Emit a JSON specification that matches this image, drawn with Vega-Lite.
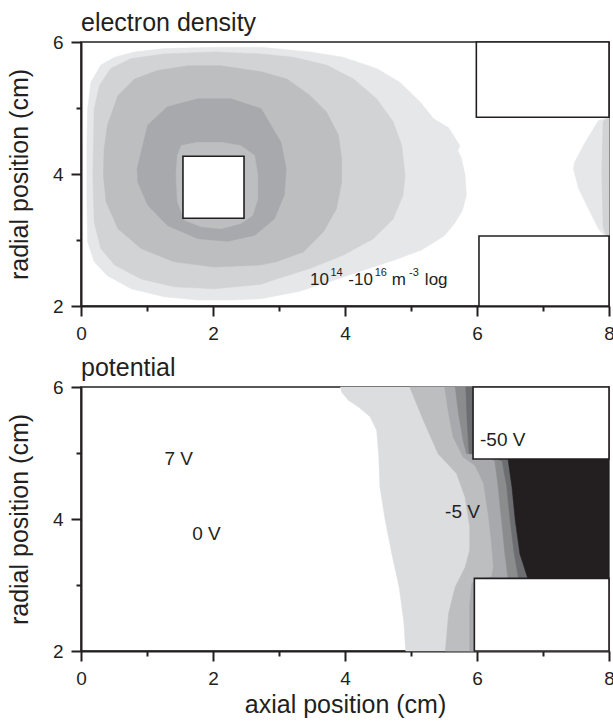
{
  "$schema": "https://vega.github.io/schema/vega-lite/v6.json",
  "background": "white",
  "padding": {"left": 6, "top": 10, "right": 0, "bottom": 0},
  "spacing": 81,
  "bounds": "flush",
  "config": {
    "font": "Liberation Sans",
    "view": {"stroke": "#231f20", "strokeWidth": 1.5},
    "axis": {"domainColor": "#231f20", "domainWidth": 2, "tickColor": "#231f20", "tickWidth": 2, "labelColor": "#231f20", "labelFontSize": 19, "labelPadding": 8, "titleColor": "#231f20", "titleFontSize": 25, "titleFontWeight": "normal", "grid": false, "labelFlush": false, "labelOverlap": false},
    "title": {"fontSize": 25, "fontWeight": "normal", "color": "#231f20", "anchor": "start", "offset": -3},
    "text": {"color": "#231f20"}
  },
  "datasets": {
    "dens": [
      {"p":"D1","i":0,"x":0.09,"y":3.98},{"p":"D1","i":1,"x":0.09,"y":4.5},{"p":"D1","i":2,"x":0.10,"y":4.99},{"p":"D1","i":3,"x":0.15,"y":5.39},{"p":"D1","i":4,"x":0.30,"y":5.65},{"p":"D1","i":5,"x":0.51,"y":5.77},{"p":"D1","i":6,"x":0.81,"y":5.85},{"p":"D1","i":7,"x":1.26,"y":5.90},{"p":"D1","i":8,"x":2.02,"y":5.92},{"p":"D1","i":9,"x":2.73,"y":5.92},{"p":"D1","i":10,"x":3.47,"y":5.85},{"p":"D1","i":11,"x":3.97,"y":5.77},{"p":"D1","i":12,"x":4.48,"y":5.60},{"p":"D1","i":13,"x":4.83,"y":5.39},{"p":"D1","i":14,"x":5.14,"y":5.09},{"p":"D1","i":15,"x":5.34,"y":4.84},{"p":"D1","i":16,"x":5.57,"y":4.70},{"p":"D1","i":17,"x":5.74,"y":4.43},{"p":"D1","i":18,"x":5.71,"y":4.35},{"p":"D1","i":19,"x":5.76,"y":4.25},{"p":"D1","i":20,"x":5.82,"y":3.98},{"p":"D1","i":21,"x":5.84,"y":3.68},{"p":"D1","i":22,"x":5.78,"y":3.45},{"p":"D1","i":23,"x":5.66,"y":3.25},{"p":"D1","i":24,"x":5.50,"y":3.06},{"p":"D1","i":25,"x":5.16,"y":2.85},{"p":"D1","i":26,"x":4.76,"y":2.70},{"p":"D1","i":27,"x":4.30,"y":2.55},{"p":"D1","i":28,"x":3.80,"y":2.38},{"p":"D1","i":29,"x":3.30,"y":2.22},{"p":"D1","i":30,"x":2.73,"y":2.11},{"p":"D1","i":31,"x":2.27,"y":2.09},{"p":"D1","i":32,"x":1.77,"y":2.09},{"p":"D1","i":33,"x":1.26,"y":2.14},{"p":"D1","i":34,"x":0.76,"y":2.26},{"p":"D1","i":35,"x":0.40,"y":2.46},{"p":"D1","i":36,"x":0.20,"y":2.67},{"p":"D1","i":37,"x":0.10,"y":2.97},{"p":"D1","i":38,"x":0.09,"y":3.5},
      {"p":"D2","i":0,"x":0.18,"y":3.98},{"p":"D2","i":1,"x":0.19,"y":4.48},{"p":"D2","i":2,"x":0.20,"y":4.99},{"p":"D2","i":3,"x":0.28,"y":5.34},{"p":"D2","i":4,"x":0.45,"y":5.60},{"p":"D2","i":5,"x":0.76,"y":5.75},{"p":"D2","i":6,"x":1.26,"y":5.82},{"p":"D2","i":7,"x":2.02,"y":5.85},{"p":"D2","i":8,"x":2.73,"y":5.82},{"p":"D2","i":9,"x":3.22,"y":5.77},{"p":"D2","i":10,"x":3.72,"y":5.65},{"p":"D2","i":11,"x":4.13,"y":5.44},{"p":"D2","i":12,"x":4.48,"y":5.14},{"p":"D2","i":13,"x":4.73,"y":4.79},{"p":"D2","i":14,"x":4.86,"y":4.43},{"p":"D2","i":15,"x":4.91,"y":3.98},{"p":"D2","i":16,"x":4.88,"y":3.68},{"p":"D2","i":17,"x":4.73,"y":3.32},{"p":"D2","i":18,"x":4.43,"y":3.02},{"p":"D2","i":19,"x":3.97,"y":2.77},{"p":"D2","i":20,"x":3.47,"y":2.57},{"p":"D2","i":21,"x":2.96,"y":2.41},{"p":"D2","i":22,"x":2.73,"y":2.33},{"p":"D2","i":23,"x":2.02,"y":2.26},{"p":"D2","i":24,"x":1.41,"y":2.29},{"p":"D2","i":25,"x":0.91,"y":2.41},{"p":"D2","i":26,"x":0.51,"y":2.62},{"p":"D2","i":27,"x":0.30,"y":2.87},{"p":"D2","i":28,"x":0.20,"y":3.27},
      {"p":"D3","i":0,"x":0.34,"y":3.98},{"p":"D3","i":1,"x":0.35,"y":4.38},{"p":"D3","i":2,"x":0.40,"y":4.74},{"p":"D3","i":3,"x":0.56,"y":5.19},{"p":"D3","i":4,"x":0.81,"y":5.44},{"p":"D3","i":5,"x":1.16,"y":5.57},{"p":"D3","i":6,"x":1.62,"y":5.64},{"p":"D3","i":7,"x":2.12,"y":5.64},{"p":"D3","i":8,"x":2.73,"y":5.55},{"p":"D3","i":9,"x":3.12,"y":5.44},{"p":"D3","i":10,"x":3.47,"y":5.19},{"p":"D3","i":11,"x":3.72,"y":4.94},{"p":"D3","i":12,"x":3.90,"y":4.59},{"p":"D3","i":13,"x":3.95,"y":4.23},{"p":"D3","i":14,"x":3.95,"y":3.88},{"p":"D3","i":15,"x":3.87,"y":3.47},{"p":"D3","i":16,"x":3.67,"y":3.12},{"p":"D3","i":17,"x":3.37,"y":2.82},{"p":"D3","i":18,"x":2.96,"y":2.67},{"p":"D3","i":19,"x":2.71,"y":2.62},{"p":"D3","i":20,"x":2.02,"y":2.59},{"p":"D3","i":21,"x":1.41,"y":2.67},{"p":"D3","i":22,"x":0.91,"y":2.87},{"p":"D3","i":23,"x":0.56,"y":3.17},{"p":"D3","i":24,"x":0.38,"y":3.58},
      {"p":"D4","i":0,"x":0.85,"y":4.08},{"p":"D4","i":1,"x":1.01,"y":4.74},{"p":"D4","i":2,"x":1.31,"y":5.02},{"p":"D4","i":3,"x":1.77,"y":5.14},{"p":"D4","i":4,"x":2.27,"y":5.14},{"p":"D4","i":5,"x":2.73,"y":4.99},{"p":"D4","i":6,"x":3.03,"y":4.48},{"p":"D4","i":7,"x":3.11,"y":4.08},{"p":"D4","i":8,"x":3.08,"y":3.68},{"p":"D4","i":9,"x":2.93,"y":3.32},{"p":"D4","i":10,"x":2.63,"y":3.07},{"p":"D4","i":11,"x":2.22,"y":2.98},{"p":"D4","i":12,"x":1.77,"y":3.02},{"p":"D4","i":13,"x":1.31,"y":3.22},{"p":"D4","i":14,"x":1.01,"y":3.53},{"p":"D4","i":15,"x":0.86,"y":3.88},
      {"p":"D5","i":0,"x":1.44,"y":3.98},{"p":"D5","i":1,"x":1.46,"y":4.28},{"p":"D5","i":2,"x":1.52,"y":4.43},{"p":"D5","i":3,"x":1.77,"y":4.48},{"p":"D5","i":4,"x":2.12,"y":4.48},{"p":"D5","i":5,"x":2.42,"y":4.43},{"p":"D5","i":6,"x":2.63,"y":4.28},{"p":"D5","i":7,"x":2.68,"y":3.98},{"p":"D5","i":8,"x":2.68,"y":3.63},{"p":"D5","i":9,"x":2.60,"y":3.37},{"p":"D5","i":10,"x":2.42,"y":3.25},{"p":"D5","i":11,"x":2.12,"y":3.17},{"p":"D5","i":12,"x":1.82,"y":3.20},{"p":"D5","i":13,"x":1.57,"y":3.30},{"p":"D5","i":14,"x":1.46,"y":3.58},
      {"p":"D6","i":0,"x":8.0,"y":4.86},{"p":"D6","i":1,"x":7.84,"y":4.81},{"p":"D6","i":2,"x":7.64,"y":4.48},{"p":"D6","i":3,"x":7.48,"y":4.18},{"p":"D6","i":4,"x":7.46,"y":4.08},{"p":"D6","i":5,"x":7.54,"y":3.78},{"p":"D6","i":6,"x":7.69,"y":3.47},{"p":"D6","i":7,"x":7.84,"y":3.17},{"p":"D6","i":8,"x":7.94,"y":3.06},{"p":"D6","i":9,"x":8.0,"y":3.06},
      {"p":"D7","i":0,"x":8.0,"y":4.86},{"p":"D7","i":1,"x":7.91,"y":4.80},{"p":"D7","i":2,"x":7.89,"y":4.0},{"p":"D7","i":3,"x":7.91,"y":3.2},{"p":"D7","i":4,"x":7.96,"y":3.06},{"p":"D7","i":5,"x":8.0,"y":3.06}
    ],
    "pot": [
      {"p":"P1","i":0,"x":3.93,"y":6.0},{"p":"P1","i":1,"x":3.95,"y":5.92},{"p":"P1","i":2,"x":4.05,"y":5.80},{"p":"P1","i":3,"x":4.20,"y":5.70},{"p":"P1","i":4,"x":4.38,"y":5.55},{"p":"P1","i":5,"x":4.48,"y":5.34},{"p":"P1","i":6,"x":4.51,"y":4.99},{"p":"P1","i":7,"x":4.53,"y":4.48},{"p":"P1","i":8,"x":4.61,"y":3.98},{"p":"P1","i":9,"x":4.71,"y":3.47},{"p":"P1","i":10,"x":4.82,"y":2.97},{"p":"P1","i":11,"x":4.89,"y":2.46},{"p":"P1","i":12,"x":4.92,"y":2.0},{"p":"P1","i":13,"x":8.0,"y":2.0},{"p":"P1","i":14,"x":8.0,"y":6.0},
      {"p":"P2","i":0,"x":4.98,"y":6.0},{"p":"P2","i":1,"x":5.19,"y":5.49},{"p":"P2","i":2,"x":5.41,"y":4.99},{"p":"P2","i":3,"x":5.69,"y":4.69},{"p":"P2","i":4,"x":5.82,"y":4.33},{"p":"P2","i":5,"x":5.89,"y":3.88},{"p":"P2","i":6,"x":5.89,"y":3.53},{"p":"P2","i":7,"x":5.82,"y":3.27},{"p":"P2","i":8,"x":5.67,"y":2.97},{"p":"P2","i":9,"x":5.57,"y":2.57},{"p":"P2","i":10,"x":5.52,"y":2.0},{"p":"P2","i":11,"x":8.0,"y":2.0},{"p":"P2","i":12,"x":8.0,"y":6.0},
      {"p":"P3","i":0,"x":5.51,"y":6.0},{"p":"P3","i":1,"x":5.57,"y":5.60},{"p":"P3","i":2,"x":5.64,"y":5.24},{"p":"P3","i":3,"x":5.79,"y":4.94},{"p":"P3","i":4,"x":5.97,"y":4.81},{"p":"P3","i":5,"x":6.10,"y":4.54},{"p":"P3","i":6,"x":6.17,"y":4.08},{"p":"P3","i":7,"x":6.22,"y":3.63},{"p":"P3","i":8,"x":6.25,"y":3.27},{"p":"P3","i":9,"x":6.22,"y":3.12},{"p":"P3","i":10,"x":5.97,"y":3.08},{"p":"P3","i":11,"x":5.92,"y":3.02},{"p":"P3","i":12,"x":5.89,"y":2.72},{"p":"P3","i":13,"x":5.89,"y":2.0},{"p":"P3","i":14,"x":8.0,"y":2.0},{"p":"P3","i":15,"x":8.0,"y":6.0},
      {"p":"P4","i":0,"x":5.67,"y":6.0},{"p":"P4","i":1,"x":5.72,"y":5.60},{"p":"P4","i":2,"x":5.79,"y":5.19},{"p":"P4","i":3,"x":5.84,"y":4.99},{"p":"P4","i":4,"x":6.10,"y":4.98},{"p":"P4","i":5,"x":6.27,"y":4.88},{"p":"P4","i":6,"x":6.32,"y":4.50},{"p":"P4","i":7,"x":6.37,"y":4.0},{"p":"P4","i":8,"x":6.42,"y":3.50},{"p":"P4","i":9,"x":6.47,"y":3.10},{"p":"P4","i":10,"x":6.47,"y":2.9},{"p":"P4","i":11,"x":8.0,"y":2.9},{"p":"P4","i":12,"x":8.0,"y":6.0},
      {"p":"P5","i":0,"x":5.83,"y":6.0},{"p":"P5","i":1,"x":5.85,"y":5.49},{"p":"P5","i":2,"x":5.88,"y":4.99},{"p":"P5","i":3,"x":6.10,"y":4.98},{"p":"P5","i":4,"x":6.38,"y":4.88},{"p":"P5","i":5,"x":6.45,"y":4.50},{"p":"P5","i":6,"x":6.50,"y":4.0},{"p":"P5","i":7,"x":6.56,"y":3.50},{"p":"P5","i":8,"x":6.63,"y":3.10},{"p":"P5","i":9,"x":6.63,"y":2.9},{"p":"P5","i":10,"x":8.0,"y":2.9},{"p":"P5","i":11,"x":8.0,"y":6.0},
      {"p":"P6","i":0,"x":6.30,"y":5.0},{"p":"P6","i":1,"x":6.47,"y":4.91},{"p":"P6","i":2,"x":6.53,"y":4.48},{"p":"P6","i":3,"x":6.58,"y":3.98},{"p":"P6","i":4,"x":6.65,"y":3.47},{"p":"P6","i":5,"x":6.77,"y":3.10},{"p":"P6","i":6,"x":6.77,"y":3.0},{"p":"P6","i":7,"x":8.0,"y":3.0},{"p":"P6","i":8,"x":8.0,"y":5.0}
    ],
    "boxes": [
      {"panel":"d","x":1.545,"x2":2.47,"y":3.33,"y2":4.27},
      {"panel":"d","x":5.99,"x2":8.0,"y":4.86,"y2":6.0},
      {"panel":"d","x":6.03,"x2":8.0,"y":2.0,"y2":3.06},
      {"panel":"p","x":5.94,"x2":8.0,"y":4.91,"y2":6.0},
      {"panel":"p","x":5.96,"x2":8.0,"y":2.0,"y2":3.1}
    ],
    "labels": [
      {"panel":"d","kind":"base","x":3.47,"y":2.32,"text":"10"},
      {"panel":"d","kind":"sup","x":3.78,"y":2.455,"text":"14"},
      {"panel":"d","kind":"base","x":4.05,"y":2.32,"text":"-10"},
      {"panel":"d","kind":"sup","x":4.45,"y":2.455,"text":"16"},
      {"panel":"d","kind":"base","x":4.71,"y":2.32,"text":"m"},
      {"panel":"d","kind":"sup","x":4.97,"y":2.455,"text":"-3"},
      {"panel":"d","kind":"base","x":5.21,"y":2.32,"text":"log"},
      {"panel":"p","kind":"v","x":1.48,"y":4.91,"text":"7 V"},
      {"panel":"p","kind":"v","x":1.90,"y":3.78,"text":"0 V"},
      {"panel":"p","kind":"v","x":5.78,"y":4.11,"text":"-5 V"},
      {"panel":"p","kind":"v","x":6.39,"y":5.20,"text":"-50 V"}
    ]
  },
  "vconcat": [
    {
      "width": 528,
      "height": 264,
      "title": {"text": "electron density", "frame": "group"},
      "encoding": {
        "x": {"field": "x", "type": "quantitative", "scale": {"domain": [0, 8], "nice": false, "zero": false},
          "axis": {"values": [0,1,2,3,4,5,6,7,8], "labelExpr": "datum.value % 2 == 0 ? datum.label : ''", "tickSize": {"condition": {"test": "datum.value % 2 == 1", "value": 5}, "value": 10}, "title": null}},
        "y": {"field": "y", "type": "quantitative", "scale": {"domain": [2, 6], "nice": false, "zero": false},
          "axis": {"values": [2,3,4,5,6], "labelExpr": "datum.value % 2 == 0 ? datum.label : ''", "tickSize": {"condition": {"test": "datum.value % 2 == 1", "value": 5}, "value": 10}, "title": "radial position (cm)", "titlePadding": 20}}
      },
      "layer": [
        {"data": {"name": "dens"}, "transform": [{"filter": "datum.p == 'D1'"}], "mark": {"type": "line", "interpolate": "linear-closed", "fill": "#e6e7e8", "stroke": "#e6e7e8", "strokeWidth": 0.5}, "encoding": {"order": {"field": "i", "type": "quantitative"}}},
        {"data": {"name": "dens"}, "transform": [{"filter": "datum.p == 'D6'"}], "mark": {"type": "line", "interpolate": "linear-closed", "fill": "#e6e7e8", "stroke": "#e6e7e8", "strokeWidth": 0.5}, "encoding": {"order": {"field": "i", "type": "quantitative"}}},
        {"data": {"name": "dens"}, "transform": [{"filter": "datum.p == 'D2'"}], "mark": {"type": "line", "interpolate": "linear-closed", "fill": "#d1d3d4", "stroke": "#d1d3d4", "strokeWidth": 0.5}, "encoding": {"order": {"field": "i", "type": "quantitative"}}},
        {"data": {"name": "dens"}, "transform": [{"filter": "datum.p == 'D7'"}], "mark": {"type": "line", "interpolate": "linear-closed", "fill": "#d1d3d4", "stroke": "#d1d3d4", "strokeWidth": 0.5}, "encoding": {"order": {"field": "i", "type": "quantitative"}}},
        {"data": {"name": "dens"}, "transform": [{"filter": "datum.p == 'D3'"}], "mark": {"type": "line", "interpolate": "linear-closed", "fill": "#bcbec0", "stroke": "#bcbec0", "strokeWidth": 0.5}, "encoding": {"order": {"field": "i", "type": "quantitative"}}},
        {"data": {"name": "dens"}, "transform": [{"filter": "datum.p == 'D4'"}], "mark": {"type": "line", "interpolate": "linear-closed", "fill": "#a7a9ac", "stroke": "#a7a9ac", "strokeWidth": 0.5}, "encoding": {"order": {"field": "i", "type": "quantitative"}}},
        {"data": {"name": "dens"}, "transform": [{"filter": "datum.p == 'D5'"}], "mark": {"type": "line", "interpolate": "linear-closed", "fill": "#bcbec0", "stroke": "#bcbec0", "strokeWidth": 0.5}, "encoding": {"order": {"field": "i", "type": "quantitative"}}},
        {"data": {"name": "boxes"}, "transform": [{"filter": "datum.panel == 'd'"}], "mark": {"type": "rect", "fill": "white", "stroke": "#231f20", "strokeWidth": 1.6}, "encoding": {"x2": {"field": "x2"}, "y2": {"field": "y2"}}},
        {"data": {"name": "labels"}, "transform": [{"filter": "datum.kind == 'base'"}], "mark": {"type": "text", "align": "left", "baseline": "alphabetic", "fontSize": 17}, "encoding": {"text": {"field": "text"}}},
        {"data": {"name": "labels"}, "transform": [{"filter": "datum.kind == 'sup'"}], "mark": {"type": "text", "align": "left", "baseline": "alphabetic", "fontSize": 11}, "encoding": {"text": {"field": "text"}}}
      ]
    },
    {
      "width": 528,
      "height": 264,
      "title": {"text": "potential", "frame": "group"},
      "encoding": {
        "x": {"field": "x", "type": "quantitative", "scale": {"domain": [0, 8], "nice": false, "zero": false},
          "axis": {"values": [0,1,2,3,4,5,6,7,8], "labelExpr": "datum.value % 2 == 0 ? datum.label : ''", "tickSize": {"condition": {"test": "datum.value % 2 == 1", "value": 5}, "value": 10}, "title": "axial position (cm)", "titlePadding": 4}},
        "y": {"field": "y", "type": "quantitative", "scale": {"domain": [2, 6], "nice": false, "zero": false},
          "axis": {"values": [2,3,4,5,6], "labelExpr": "datum.value % 2 == 0 ? datum.label : ''", "tickSize": {"condition": {"test": "datum.value % 2 == 1", "value": 5}, "value": 10}, "title": "radial position (cm)", "titlePadding": 20}}
      },
      "layer": [
        {"data": {"name": "pot"}, "transform": [{"filter": "datum.p == 'P1'"}], "mark": {"type": "line", "interpolate": "linear-closed", "fill": "#dcdddf", "stroke": "#dcdddf", "strokeWidth": 0.5}, "encoding": {"order": {"field": "i", "type": "quantitative"}}},
        {"data": {"name": "pot"}, "transform": [{"filter": "datum.p == 'P2'"}], "mark": {"type": "line", "interpolate": "linear-closed", "fill": "#bcbec0", "stroke": "#bcbec0", "strokeWidth": 0.5}, "encoding": {"order": {"field": "i", "type": "quantitative"}}},
        {"data": {"name": "pot"}, "transform": [{"filter": "datum.p == 'P3'"}], "mark": {"type": "line", "interpolate": "linear-closed", "fill": "#a7a9ac", "stroke": "#a7a9ac", "strokeWidth": 0.5}, "encoding": {"order": {"field": "i", "type": "quantitative"}}},
        {"data": {"name": "pot"}, "transform": [{"filter": "datum.p == 'P4'"}], "mark": {"type": "line", "interpolate": "linear-closed", "fill": "#8a8c8e", "stroke": "#8a8c8e", "strokeWidth": 0.5}, "encoding": {"order": {"field": "i", "type": "quantitative"}}},
        {"data": {"name": "pot"}, "transform": [{"filter": "datum.p == 'P5'"}], "mark": {"type": "line", "interpolate": "linear-closed", "fill": "#6d6e71", "stroke": "#6d6e71", "strokeWidth": 0.5}, "encoding": {"order": {"field": "i", "type": "quantitative"}}},
        {"data": {"name": "pot"}, "transform": [{"filter": "datum.p == 'P6'"}], "mark": {"type": "line", "interpolate": "linear-closed", "fill": "#231f20", "stroke": "#231f20", "strokeWidth": 0.5}, "encoding": {"order": {"field": "i", "type": "quantitative"}}},
        {"data": {"name": "boxes"}, "transform": [{"filter": "datum.panel == 'p'"}], "mark": {"type": "rect", "fill": "white", "stroke": "#231f20", "strokeWidth": 1.6}, "encoding": {"x2": {"field": "x2"}, "y2": {"field": "y2"}}},
        {"data": {"name": "labels"}, "transform": [{"filter": "datum.kind == 'v'"}], "mark": {"type": "text", "align": "center", "baseline": "middle", "fontSize": 19}, "encoding": {"text": {"field": "text"}}}
      ]
    }
  ]
}
